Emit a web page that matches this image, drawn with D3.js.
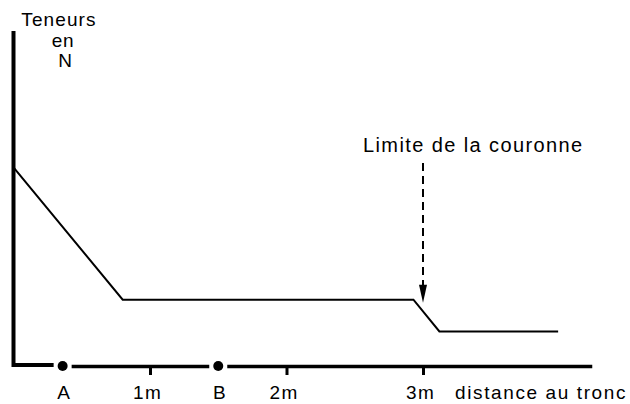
<!DOCTYPE html>
<html>
<head>
<meta charset="utf-8">
<script src="https://cdn.jsdelivr.net/npm/d3@7"></script>
<style>
  html, body { margin: 0; padding: 0; background: #fff; }
  svg { display: block; }
  text { font-family: "Liberation Sans", Arial, Helvetica, sans-serif; fill: #000; }
</style>
</head>
<body>
<svg id="chart" width="630" height="404"></svg>
<script>
// ---- data ----
const distances = [0, 0.80, 2.93, 3.12, 3.99];         // m from trunk
const teneurN   = [59, 19.5, 19.5, 10, 10];             // relative N content
const tickValues = [1, 2, 3];
const tickLabels = ["1m", "2m", "3m"];
const pointNames = ["A", "B"];
const pointPos   = [0.36, 1.50];
const crownLimit = 3.0;
const axisEnd = 4.24;
const yLabelLines = ["Teneurs", "en", "N"];
const xTitle = "distance au tronc";
const crownText = "Limite de la couronne";

// ---- scales ----
const svg = d3.select("#chart");
const x = d3.scaleLinear().domain([0, 4]).range([13.5, 559.5]);
const y = d3.scaleLinear().domain([0, 100]).range([365, 30]);

// ---- y axis (thick vertical line) ----
svg.append("line")
  .attr("x1", x(0)).attr("x2", x(0))
  .attr("y1", y(99.7)).attr("y2", y(0) + 2)
  .attr("stroke", "#000").attr("stroke-width", 4);

// y label
const ylab = [[59, 26, 1.1], [63, 47, 0.6], [65, 67, 0]];
yLabelLines.forEach((t, i) => {
  svg.append("text")
    .attr("x", ylab[i][0]).attr("y", ylab[i][1])
    .attr("text-anchor", "middle")
    .attr("font-size", 19)
    .attr("letter-spacing", ylab[i][2])
    .text(t);
});

// ---- x axis, broken by points A and B ----
const gap = 9;
const segs = [];
let start = x(0);
pointPos.forEach(p => { segs.push([start, x(p) - gap]); start = x(p) + gap; });
segs.push([start, x(axisEnd)]);
svg.selectAll(".seg").data(segs).enter().append("line")
  .attr("class", "seg")
  .attr("x1", d => d[0]).attr("x2", d => d[1])
  .attr("y1", (d, i) => i === 0 ? y(0) : y(0) + 1.5)
  .attr("y2", (d, i) => i === 0 ? y(0) : y(0) + 1.5)
  .attr("stroke", "#000").attr("stroke-width", (d, i) => i === 0 ? 4 : 3.5)
  .attr("stroke-linecap", "butt");

svg.selectAll(".pt").data(pointPos).enter().append("circle")
  .attr("cx", d => x(d)).attr("cy", y(0) + 1)
  .attr("r", 5).attr("fill", "#000");

svg.selectAll(".ptlab").data(pointNames).enter().append("text")
  .attr("x", (d, i) => x(pointPos[i]) + 1)
  .attr("y", 399)
  .attr("text-anchor", "middle")
  .attr("font-size", 19)
  .text(d => d);

const xAxis = d3.axisBottom(x)
  .tickValues(tickValues)
  .tickFormat((d, i) => tickLabels[i])
  .tickSize(10)
  .tickSizeOuter(0);
const gx = svg.append("g").attr("transform", `translate(0,${y(0)})`).call(xAxis);
gx.select(".domain").remove();
gx.selectAll(".tick line").attr("stroke", "#000").attr("stroke-width", 3);
gx.selectAll(".tick text")
  .attr("y", 34).attr("dy", 0).attr("dx", -3)
  .attr("font-size", 19).attr("letter-spacing", 1.2)
  .style("font-family", '"Liberation Sans", Arial, Helvetica, sans-serif')
  .attr("fill", "#000");

svg.append("text")
  .attr("x", 627).attr("y", 399)
  .attr("text-anchor", "end")
  .attr("font-size", 19).attr("letter-spacing", 1.6)
  .text(xTitle);

// ---- N content curve ----
const pts = distances.map((d, i) => [d, teneurN[i]]);
svg.append("path")
  .datum(pts)
  .attr("d", d3.line().x(d => x(d[0])).y(d => y(d[1])))
  .attr("fill", "none").attr("stroke", "#000").attr("stroke-width", 2);

// ---- crown limit annotation ----
const ax = x(crownLimit);
const tipY = y(19.5) + 3;
svg.append("line")
  .attr("x1", ax).attr("x2", ax)
  .attr("y1", 163).attr("y2", tipY - 16)
  .attr("stroke", "#000").attr("stroke-width", 2)
  .attr("stroke-dasharray", "8,5");
svg.append("path")
  .attr("d", `M${ax - 4},${tipY - 18} L${ax + 4},${tipY - 18} L${ax},${tipY} Z`)
  .attr("fill", "#000");
svg.append("text")
  .attr("x", 363).attr("y", 152)
  .attr("font-size", 20).attr("letter-spacing", 1.4)
  .text(crownText);
</script>
</body>
</html>
